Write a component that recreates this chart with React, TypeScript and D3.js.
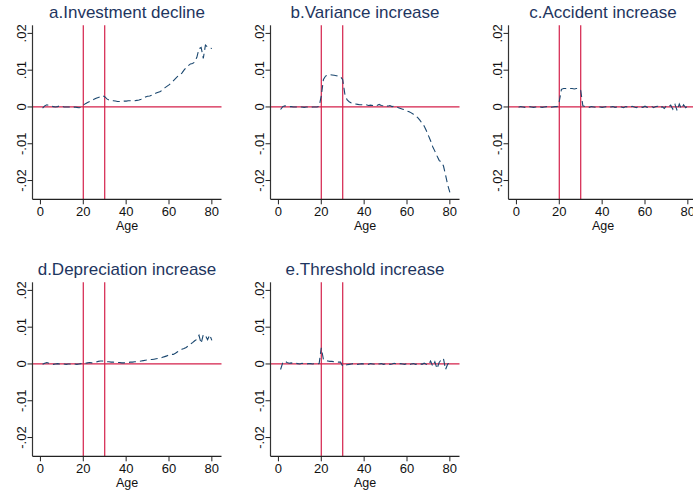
import React from "react";
import * as d3 from "d3";

// ages on the x axis
const ages = d3.range(1, 81);

const titles = [
  "a.Investment decline",
  "b.Variance increase",
  "c.Accident increase",
  "d.Depreciation increase",
  "e.Threshold increase",
];

const investmentDecline = [
  -0.0003, 0.0003, 0.0006, 0.0004, 0.0002, 0.0001, 0.0, 0.0001, 0.0003, 0.0002,
  0.0, 0.0, 0.0, 0.0, -0.0001, 0.0, -0.0001, -0.0002, -0.0001, 0.0005,
  0.0009, 0.0012, 0.0015, 0.0018, 0.0021, 0.0024, 0.0026, 0.0028, 0.0031, 0.0028,
  0.0022, 0.0019, 0.0018, 0.0017, 0.0016, 0.0015, 0.0015, 0.0015, 0.0016, 0.0016,
  0.0017, 0.0017, 0.0016, 0.0017, 0.0018, 0.0019, 0.0021, 0.0024, 0.0027, 0.0029,
  0.003, 0.0032, 0.0035, 0.0038, 0.004, 0.0042, 0.0047, 0.0052, 0.0056, 0.006,
  0.0065, 0.0071, 0.0077, 0.0083, 0.0085, 0.0092, 0.01, 0.0107, 0.0112, 0.0117,
  0.0118, 0.0122, 0.0135, 0.0158, 0.0162, 0.0132, 0.0168, 0.0163, 0.016, 0.0159,
];

const varianceIncrease = [
  -0.0007, 0.0001, 0.0003, 0.0002, 0.0001, 0.0001, 0.0, 0.0, 0.0, 0.0,
  0.0, -0.0001, 0.0, 0.0, -0.0001, 0.0, 0.0, 0.0, 0.0002, 0.003,
  0.0075, 0.0084, 0.0087, 0.0088, 0.0087, 0.0086, 0.0085, 0.0084, 0.0082, 0.0074,
  0.0035, 0.002, 0.0014, 0.0011, 0.0009, 0.0008, 0.0007, 0.0006, 0.0006, 0.0005,
  0.0006, 0.0004, 0.0005, 0.0004, 0.0006, 0.0004, 0.0007, 0.0004, 0.0003, 0.0005,
  0.0002, 0.0004, 0.0001, 0.0002, 0.0, -0.0002, -0.0004, -0.0006, -0.0008, -0.0011,
  -0.0013, -0.0016, -0.002, -0.0024, -0.0029, -0.0036, -0.0044, -0.0052, -0.0064, -0.0078,
  -0.0092, -0.0108, -0.012, -0.0133, -0.0145, -0.015, -0.016, -0.0185, -0.0212, -0.0232,
];

const accidentIncrease = [
  -0.0001, 0.0001, 0.0, -0.0001, 0.0, 0.0001, 0.0, -0.0001, 0.0, 0.0001,
  0.0, -0.0001, 0.0, 0.0001, 0.0, -0.0001, 0.0, 0.0001, 0.0001, 0.0015,
  0.0048, 0.005, 0.005, 0.0049, 0.005, 0.005, 0.0049, 0.005, 0.005, 0.0045,
  0.0003, 0.0001, 0.0, -0.0001, 0.0001, 0.0, -0.0001, 0.0001, 0.0, -0.0001,
  0.0, 0.0001, -0.0001, 0.0, 0.0001, -0.0001, 0.0, 0.0002, 0.0, -0.0002,
  0.0001, 0.0, -0.0001, 0.0002, 0.0, -0.0002, 0.0001, 0.0, -0.0001, 0.0002,
  -0.0001, 0.0, 0.0002, -0.0002, 0.0001, 0.0002, -0.0003, 0.0001, -0.0004, 0.0003,
  0.0, 0.0005, -0.0006, 0.0007, -0.001, 0.0008, -0.0005, 0.0006, -0.0002, 0.0003,
];

const depreciationIncrease = [
  -0.0001, 0.0002, 0.0004, 0.0002, 0.0, -0.0001, 0.0, 0.0001, 0.0, 0.0001,
  0.0, -0.0001, 0.0, 0.0, 0.0001, 0.0, -0.0001, 0.0, 0.0001, 0.0002,
  0.0002, 0.0003, 0.0004, 0.0003, 0.0004, 0.0005, 0.0007, 0.0008, 0.0008, 0.0007,
  0.0006, 0.0006, 0.0005, 0.0005, 0.0004, 0.0004, 0.0004, 0.0003, 0.0003, 0.0004,
  0.0004, 0.0005, 0.0005, 0.0006, 0.0006, 0.0007, 0.0008, 0.0009, 0.001, 0.0011,
  0.0012, 0.0012, 0.0013, 0.0014, 0.0015, 0.0016, 0.0018, 0.002, 0.0022, 0.0025,
  0.0026, 0.0026, 0.0029, 0.0033, 0.0037, 0.004, 0.0042, 0.0045, 0.0049, 0.0054,
  0.0058, 0.0063, 0.0067, 0.0078, 0.0056, 0.008, 0.0077, 0.0066, 0.0079, 0.0064,
];

const thresholdIncrease = [
  -0.0015, 0.0003, 0.0008, 0.0004, 0.0002, 0.0003, 0.0001, 0.0002, 0.0001, 0.0,
  0.0002, 0.0001, 0.0, 0.0001, 0.0001, 0.0, 0.0001, 0.0, 0.0001, 0.0044,
  0.0012, 0.0009, 0.0008, 0.0007, 0.0007, 0.0006, 0.0006, 0.0005, 0.0005, -0.0006,
  -0.0003, -0.0002, -0.0001, 0.0, 0.0001, 0.0, -0.0001, 0.0, 0.0001, 0.0,
  0.0, -0.0001, 0.0001, 0.0, -0.0001, 0.0001, 0.0, 0.0001, -0.0001, 0.0,
  0.0001, -0.0001, 0.0, 0.0002, 0.0, -0.0002, 0.0001, 0.0, -0.0001, 0.0001,
  -0.0002, 0.0, 0.0001, -0.0001, 0.0, 0.0001, -0.0001, 0.0002, -0.0001, -0.0003,
  0.0008, -0.0006, 0.0006, -0.0013, 0.0004, 0.0012, 0.0015, -0.0015, 0.0, 0.0002,
];

const series = [
  investmentDecline,
  varianceIncrease,
  accidentIncrease,
  depreciationIncrease,
  thresholdIncrease,
];

const xTicks = [0, 20, 40, 60, 80];
const yTicks = [-0.02, -0.01, 0, 0.01, 0.02];
const yTickLabels = ["-.02", "-.01", "0", ".01", ".02"];
const markerAges = [20, 30];

const W = 693;
const H = 494;
const plotW = 189;
const plotH = 174;
const font = "Arial, 'Liberation Sans', Helvetica, sans-serif";
const navy = "#1a476f";
const red = "#d4204a";

const Panel = ({ title, values, left, top }) => {
  const x = d3.scaleLinear().domain([-3.7, 84.5]).range([0, plotW]);
  const y = d3.scaleLinear().domain([-0.0251, 0.0222]).range([plotH, 0]);

  const line = d3
    .line()
    .x((d, i) => x(ages[i]))
    .y(d => y(d));

  return (
    <g transform={`translate(${left},${top})`}>
      <text
        x={plotW / 2}
        y={-7}
        textAnchor="middle"
        fontSize={17}
        fill="#1e3560"
        fontFamily={font}
      >
        {title}
      </text>

      {/* reference lines */}
      <line x1={0} x2={plotW} y1={y(0)} y2={y(0)} stroke={red} strokeWidth={1.2} />
      {markerAges.map(a => (
        <line key={a} x1={x(a)} x2={x(a)} y1={0} y2={plotH} stroke={red} strokeWidth={1.2} />
      ))}

      <path
        d={line(values)}
        fill="none"
        stroke={navy}
        strokeWidth={1.1}
        strokeDasharray="7,4"
      />

      {/* axes */}
      <line x1={0} x2={0} y1={0} y2={plotH} stroke="#333" strokeWidth={1.2} />
      <line x1={0} x2={plotW} y1={plotH} y2={plotH} stroke="#222" strokeWidth={1.2} />

      {xTicks.map(t => (
        <g key={t} transform={`translate(${x(t)},${plotH})`}>
          <line y1={0} y2={5} stroke="#222" />
          <text y={17} textAnchor="middle" fontSize={13} fontFamily={font} fill="#111">
            {t}
          </text>
        </g>
      ))}
      {yTicks.map((t, i) => (
        <g key={t} transform={`translate(0,${y(t)})`}>
          <line x1={-5} x2={0} stroke="#222" />
          <text
            transform="translate(-7,0) rotate(-90)"
            textAnchor="middle"
            fontSize={13}
            fontFamily={font}
            fill="#111"
          >
            {yTickLabels[i]}
          </text>
        </g>
      ))}

      <text
        x={plotW / 2}
        y={plotH + 31}
        textAnchor="middle"
        fontSize={12.5}
        fontFamily={font}
        fill="#111"
      >
        Age
      </text>
    </g>
  );
};

export default function App() {
  const colStep = 238;
  const rowStep = 257;
  return (
    <svg
      width={W}
      height={H}
      style={{ position: "absolute", left: 0, top: 0, background: "#fff" }}
    >
      {series.map((s, i) => (
        <Panel
          key={titles[i]}
          title={titles[i]}
          values={s}
          left={32.5 + (i % 3) * colStep}
          top={25.3 + Math.floor(i / 3) * rowStep}
        />
      ))}
    </svg>
  );
}
